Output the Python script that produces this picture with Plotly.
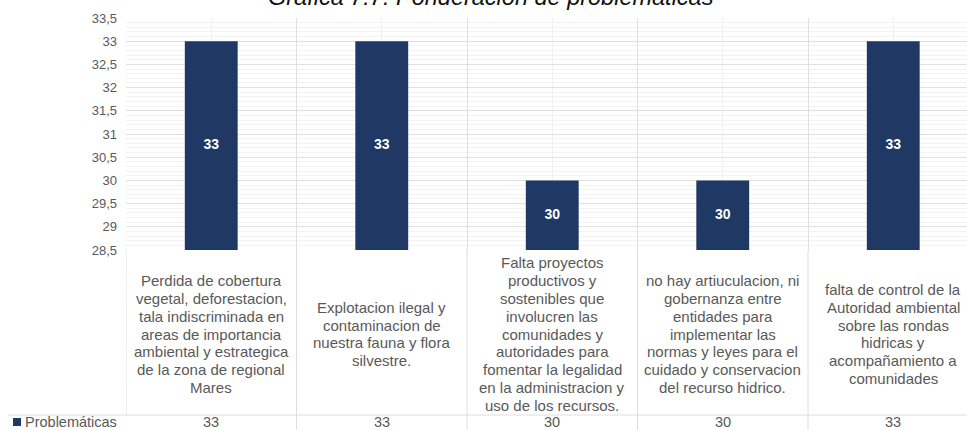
import plotly.graph_objects as go

categories = [
    "Perdida de cobertura<br>vegetal, deforestacion,<br>tala indiscriminada en<br>areas de importancia<br>ambiental y estrategica<br>de la zona de regional<br>Mares",
    "Explotacion ilegal y<br>contaminacion de<br>nuestra fauna y flora<br>silvestre.",
    "Falta proyectos<br>productivos y<br>sostenibles que<br>involucren las<br>comunidades y<br>autoridades para<br>fomentar la legalidad<br>en la administracion y<br>uso de los recursos.",
    "no hay artiuculacion, ni<br>gobernanza entre<br>entidades para<br>implementar las<br>normas y leyes para el<br>cuidado y conservacion<br>del recurso hidrico.",
    "falta de control de la<br>Autoridad ambiental<br>sobre las rondas<br>hidricas y<br>acompañamiento a<br>comunidades",
]
values = [33, 33, 30, 30, 33]
series_name = "Problemáticas"
title_text = "Gráfica 7.7: Ponderación de problemáticas"
y_tickvals = [28.5, 29, 29.5, 30, 30.5, 31, 31.5, 32, 32.5, 33, 33.5]
y_ticktext = ["28,5", "29", "29,5", "30", "30,5", "31", "31,5", "32", "32,5", "33", "33,5"]

W, H = 967, 430
ML, MT, MB = 126, 18, 180
col_w = 170.5
plot_w = W - ML
plot_h = H - MT - MB
y_min, y_max = 28.5, 33.5
x_idx = list(range(len(values)))

NAVY = "#203864"
GRAY = "#595959"
FONT = "Liberation Sans, Arial, sans-serif"


def px_x(p):
    return (p - ML) / plot_w


def px_y(p):
    return (MT + plot_h - p) / plot_h


fig = go.Figure()
fig.add_trace(go.Bar(
    x=x_idx, y=values, width=0.31, marker=dict(color=NAVY, line=dict(width=0)),
    name=series_name, showlegend=False, hoverinfo="y",
))
fig.add_trace(go.Scatter(
    x=x_idx, y=[(v + y_min) / 2 for v in values], mode="text",
    text=[str(v) for v in values],
    textfont=dict(color="white", size=14, family=FONT, weight="bold"),
    showlegend=False, hoverinfo="skip", cliponaxis=False,
))

# category labels, one annotation per line, vertically centred in the label band
LINE_H = 17.8
CENTER = 334
for i, c in enumerate(categories):
    lines = c.split("<br>")
    n = len(lines)
    for j, ln in enumerate(lines):
        yc = CENTER + (j - (n - 1) / 2) * LINE_H
        fig.add_annotation(
            x=i, xref="x", y=px_y(yc), yref="paper", text=ln, showarrow=False,
            xanchor="center", yanchor="middle", align="center",
            font=dict(size=15, color=GRAY, family=FONT),
        )
    # table value
    fig.add_annotation(
        x=i, xref="x", y=px_y(422), yref="paper", text=str(values[i]), showarrow=False,
        xanchor="center", yanchor="middle", font=dict(size=14.5, color=GRAY, family=FONT),
    )

# table legend key and series name
fig.add_shape(type="rect", xref="paper", yref="paper", x0=px_x(13), x1=px_x(21),
              y0=px_y(426), y1=px_y(418), fillcolor=NAVY, line=dict(width=0))
fig.add_annotation(
    x=px_x(23), xref="paper", y=px_y(422), yref="paper", text=series_name, showarrow=False,
    xanchor="left", yanchor="middle", font=dict(size=14.5, color=GRAY, family=FONT),
)

# title (partly cut off at top, as in the reference)
fig.add_annotation(
    x=px_x(491), xref="paper", y=px_y(-3), yref="paper",
    text=f"<i>{title_text}</i>", showarrow=False, xanchor="center", yanchor="middle",
    font=dict(size=23.5, color="#111111", family=FONT),
)

# table / boundary lines
line_col = "#dedede"
for k in range(1, 5):
    fig.add_shape(type="line", xref="x", yref="paper", x0=k - 0.5, x1=k - 0.5,
                  y0=0, y1=px_y(H), line=dict(color=line_col, width=1))
fig.add_shape(type="line", xref="x", yref="paper", x0=-0.5, x1=-0.5,
              y0=0, y1=px_y(415), line=dict(color=line_col, width=1))
fig.add_shape(type="line", xref="paper", yref="paper", x0=px_x(8), x1=1,
              y0=px_y(415), y1=px_y(415), line=dict(color=line_col, width=1))

fig.update_layout(
    width=W, height=H, margin=dict(l=ML, r=0, t=MT, b=MB),
    paper_bgcolor="white", plot_bgcolor="white",
    font=dict(family=FONT, color=GRAY),
    xaxis=dict(range=[-0.5, -0.5 + plot_w / col_w], tickmode="linear", tick0=-0.5, dtick=1,
               showgrid=True, gridcolor="#e0e0e0", gridwidth=1, zeroline=False,
               showticklabels=False, ticks="", showline=False,
               minor=dict(tickmode="linear", tick0=0, dtick=0.5, showgrid=True, gridcolor="#f0f0f0")),
    yaxis=dict(range=[y_min, y_max], tickmode="array", tickvals=y_tickvals, ticktext=y_ticktext,
               showgrid=True, gridcolor="#e0e0e0", zeroline=False, showline=False,
               tickfont=dict(size=13, color=GRAY, family=FONT), ticks="", ticklabelstandoff=8,
               minor=dict(tickmode="linear", tick0=28.5, dtick=0.1, showgrid=True, gridcolor="#f3f3f3")),
    hovermode=False,
)

fig.write_html("out.html", config={"displayModeBar": False},
               post_script="document.body.style.margin='0px';")
